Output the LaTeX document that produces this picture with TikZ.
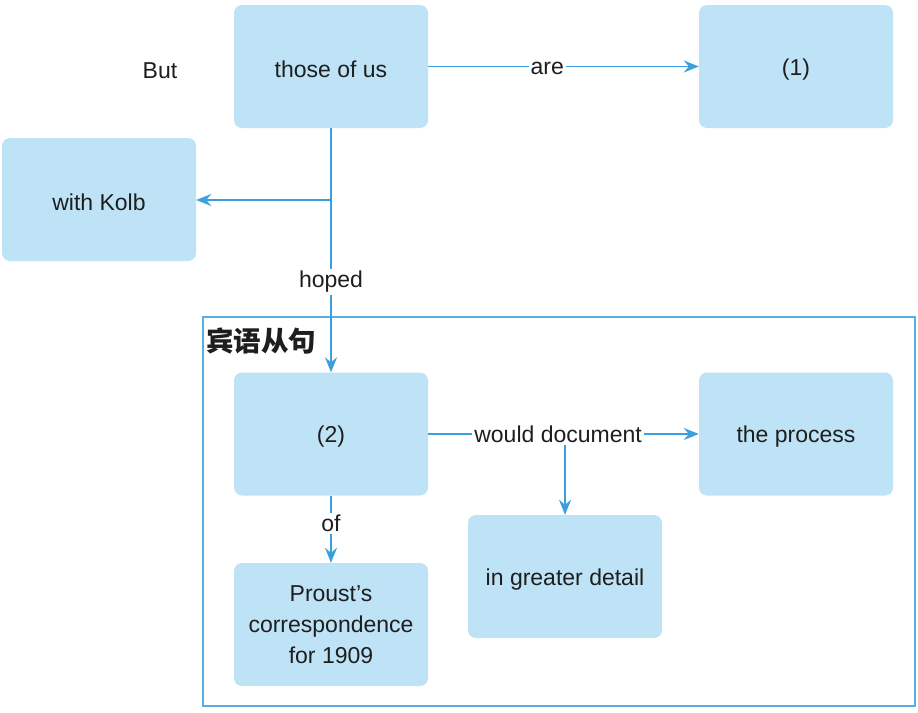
\documentclass[tikz,border=0pt]{standalone}
\usepackage{fontspec}
\setmainfont{Liberation Sans}
\newfontfamily\cjk{Noto Sans CJK SC}
\usetikzlibrary{arrows.meta}
\definecolor{boxblue}{HTML}{BEE3F6}
\definecolor{lineblue}{HTML}{3AA0DD}
\definecolor{frameblue}{HTML}{56AEE3}
\definecolor{txt}{HTML}{1E1E1E}
\newcommand{\dn}[1]{\raisebox{-3pt}[\height][\depth]{#1}}
\tikzset{
  box/.style={rectangle, rounded corners=8pt, fill=boxblue, draw=none,
    minimum width=194pt, minimum height=123pt, inner sep=0pt, align=center,
    text=txt, font=\fontsize{23}{31}\selectfont},
  plain/.style={text=txt, font=\fontsize{23}{31}\selectfont, inner sep=0pt},
  lbl/.style={fill=white, text=txt, font=\fontsize{23}{31}\selectfont, inner sep=2pt},
  conn/.style={draw=lineblue, line width=1.7pt, -{Stealth[length=15pt,width=12pt,inset=5pt]}},
}
\begin{document}
\begin{tikzpicture}[x=1pt,y=-1pt]
\useasboundingbox (0,0) rectangle (918,712);
% frame
\node[draw=frameblue, line width=1.8pt, minimum width=712pt, minimum height=389pt, inner sep=0pt] (frame) at (559,511.5) {};
\node[anchor=north west, inner sep=0pt, text=txt, font=\cjk\bfseries\fontsize{27.5}{30}\selectfont] (flabel) at (206,328) {宾语从句};
% nodes
\node[box] (those) at (331,66.5) {\dn{those of us}};
\node[box] (one) at (796,66.5) {\dn{(1)}};
\node[box] (kolb) at (99,199.5) {\dn{with Kolb}};
\node[box] (two) at (331,434) {\dn{(2)}};
\node[box] (proc) at (796,434) {\dn{the process}};
\node[box] (det) at (565,576.5) {\dn{in greater detail}};
\node[box] (proust) at (331,624.5) {Proust’s\\correspondence\\for 1909};
\node[plain] (but) at (160,71) {But};
% connectors
\draw[conn] (those.east) -- node[lbl, pos=0.44, yshift=-2pt] {are} (one.west);
\draw[conn] (those.south) -- node[lbl, pos=0.63] {hoped} (two.north);
\coordinate (br) at (331,200);
\draw[conn] (br) -- (kolb.east |- br);
\draw[conn] (two.east) -- node[lbl, pos=0.48] (wd) {would document} (proc.west);
\draw[conn] (det.north |- wd.south) -- (det.north);
\draw[conn] (two.south) -- node[lbl, pos=0.41] {of} (proust.north);
\end{tikzpicture}
\end{document}
